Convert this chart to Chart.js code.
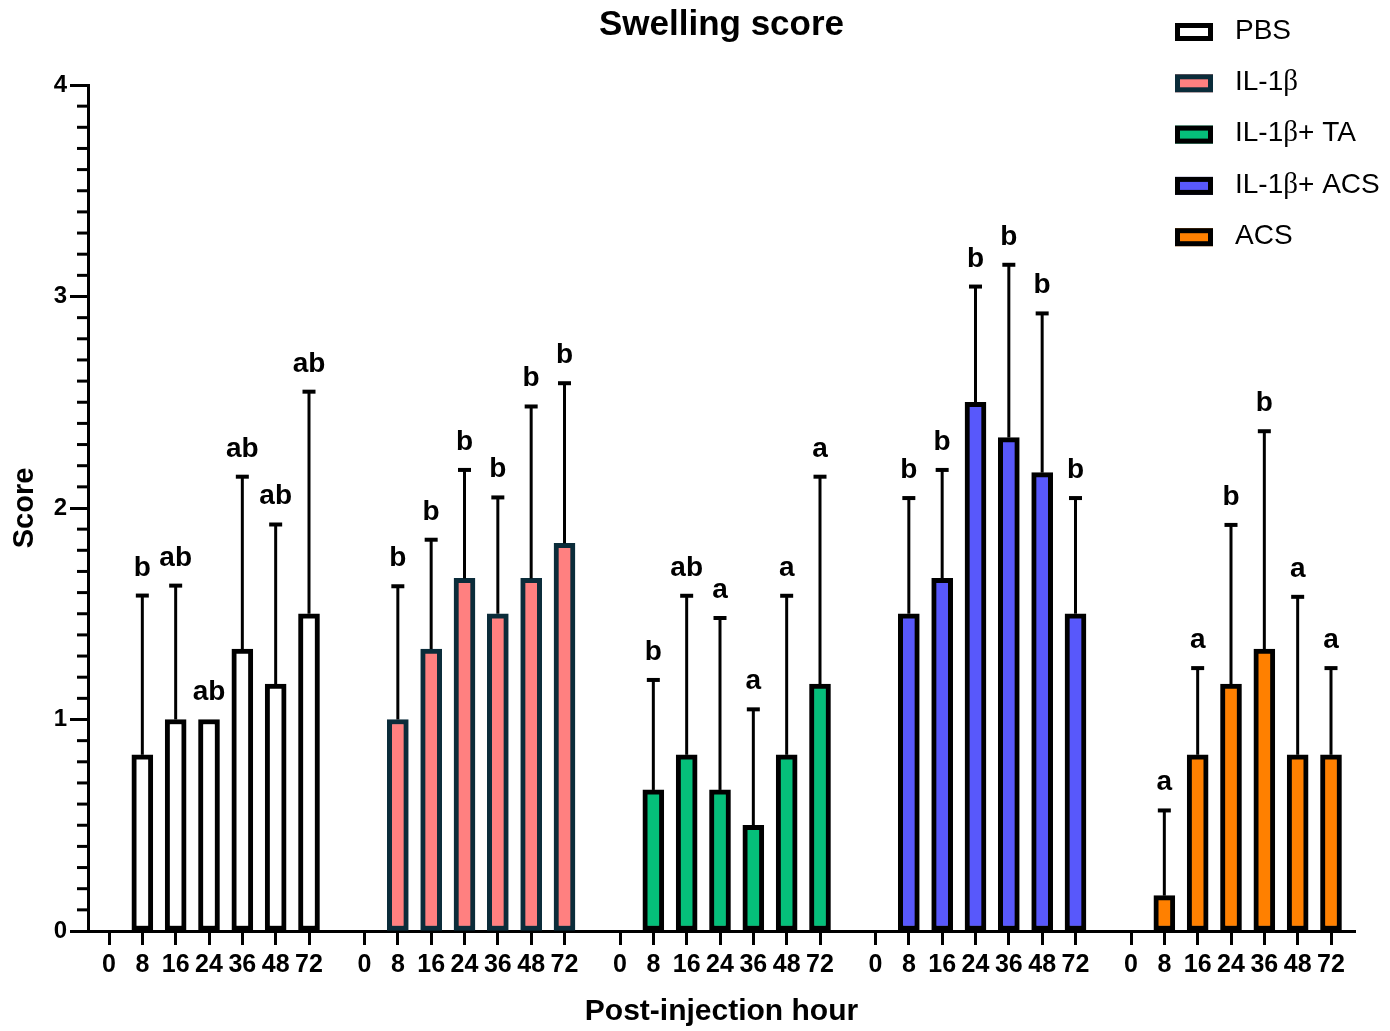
<!DOCTYPE html>
<html>
<head>
<meta charset="utf-8">
<title>Swelling score</title>
<script src="https://cdn.jsdelivr.net/npm/chart.js@4.4.0/dist/chart.umd.min.js"></script>
<style>
  html, body { margin: 0; padding: 0; background: #ffffff; }
  .canvas-container { width: 1390px; height: 1031px; }
</style>
</head>
<body>
<div class="canvas-container">
  <canvas id="myChart" width="1390" height="1031"></canvas>
</div>
<script>
// hours on the x axis, repeated for each group
const hours = ["0", "8", "16", "24", "36", "48", "72"];
const groupNames = ["PBS", "IL-1β", "IL-1β+ TA", "IL-1β+ ACS", "ACS"];

// mean scores (hour 0 has no bar)
const pbsMean = [0, 0.833, 1.0, 1.0, 1.333, 1.167, 1.5];
const il1bMean = [0, 1.0, 1.333, 1.667, 1.5, 1.667, 1.833];
const taMean = [0, 0.667, 0.833, 0.667, 0.5, 0.833, 1.167];
const il1bAcsMean = [0, 1.5, 1.667, 2.5, 2.333, 2.167, 1.5];
const acsMean = [0, 0.167, 0.833, 1.167, 1.333, 0.833, 0.833];

// upper error (SD)
const pbsErr = [0, 0.753, 0.633, 0, 0.815, 0.755, 1.05];
const il1bErr = [0, 0.63, 0.517, 0.513, 0.55, 0.813, 0.757];
const taErr = [0, 0.52, 0.752, 0.813, 0.548, 0.752, 0.981];
const il1bAcsErr = [0, 0.547, 0.513, 0.547, 0.817, 0.753, 0.547];
const acsErr = [0, 0.403, 0.41, 0.753, 1.03, 0.747, 0.41];

// significance letters
const pbsLetters = ["", "b", "ab", "ab", "ab", "ab", "ab"];
const il1bLetters = ["", "b", "b", "b", "b", "b", "b"];
const taLetters = ["", "b", "ab", "a", "a", "a", "a"];
const il1bAcsLetters = ["", "b", "b", "b", "b", "b", "b"];
const acsLetters = ["", "a", "a", "b", "b", "a", "a"];

const yTicks = [0, 1, 2, 3, 4];
const yMinorStep = 0.1;

const groupStep = 7.665; // spacing between groups, in hour slots
const xPos = (g, i) => g * groupStep + i;

const tickPositions = [];
groupNames.forEach((n, g) => hours.forEach((h, i) => tickPositions.push(xPos(g, i))));

function makeSet(g, label, means, errs, letters, fill, border) {
  return {
    label: label,
    data: means.map((v, i) => ({ x: xPos(g, i), y: v })),
    errors: errs,
    letters: letters,
    backgroundColor: fill,
    borderColor: border,
    borderWidth: 5,
    borderSkipped: false,
    barThickness: 21,
    grouped: false,
  };
}

const datasets = [
  makeSet(0, groupNames[0], pbsMean, pbsErr, pbsLetters, "#ffffff", "#000000"),
  makeSet(1, groupNames[1], il1bMean, il1bErr, il1bLetters, "#ff8080", "#0b2c3a"),
  makeSet(2, groupNames[2], taMean, taErr, taLetters, "#05bf7a", "#000000"),
  makeSet(3, groupNames[3], il1bAcsMean, il1bAcsErr, il1bAcsLetters, "#5858fb", "#000000"),
  makeSet(4, groupNames[4], acsMean, acsErr, acsLetters, "#ff8000", "#000000"),
];

const isInt = (v) => Math.abs(v - Math.round(v)) < 1e-6;

// error bars + letters above them
const errorBars = {
  id: "errorBars",
  afterDatasetsDraw(chart) {
    const ctx = chart.ctx;
    const yScale = chart.scales.y;
    chart.data.datasets.forEach((ds, di) => {
      const meta = chart.getDatasetMeta(di);
      meta.data.forEach((bar, i) => {
        const mean = ds.data[i].y;
        const err = ds.errors[i];
        const top = yScale.getPixelForValue(mean + err);
        ctx.save();
        ctx.strokeStyle = "#000";
        ctx.lineWidth = 3;
        if (err > 0) {
          ctx.beginPath();
          ctx.moveTo(bar.x, bar.y);
          ctx.lineTo(bar.x, top);
          ctx.stroke();
          ctx.lineWidth = 4;
          ctx.beginPath();
          ctx.moveTo(bar.x - 6.5, top);
          ctx.lineTo(bar.x + 6.5, top);
          ctx.stroke();
        }
        if (ds.letters[i]) {
          ctx.fillStyle = "#000";
          ctx.font = "bold 28px 'Liberation Sans', Arial, sans-serif";
          ctx.textAlign = "center";
          ctx.textBaseline = "alphabetic";
          ctx.fillText(ds.letters[i], bar.x, top - 20);
        }
        ctx.restore();
      });
    });
  },
};

// minor ticks on the y axis, every 0.1
const minorTicks = {
  id: "minorTicks",
  afterDraw(chart) {
    const ctx = chart.ctx;
    const yScale = chart.scales.y;
    const x0 = chart.chartArea.left;
    ctx.save();
    ctx.strokeStyle = "#000";
    ctx.lineWidth = 3;
    const n = Math.round((yScale.max - yScale.min) / yMinorStep);
    for (let k = 0; k <= n; k++) {
      const v = yScale.min + k * yMinorStep;
      if (isInt(v)) continue;
      const y = yScale.getPixelForValue(v);
      ctx.beginPath();
      ctx.moveTo(x0 - 11, y);
      ctx.lineTo(x0, y);
      ctx.stroke();
    }
    ctx.restore();
  },
};

// legend in the top right corner
const boxLegend = {
  id: "boxLegend",
  afterDraw(chart) {
    const ctx = chart.ctx;
    ctx.save();
    chart.data.datasets.forEach((ds, i) => {
      const cy = 31 + i * 51.3;
      ctx.fillStyle = ds.backgroundColor;
      ctx.fillRect(1175, cy - 8, 38, 18);
      ctx.strokeStyle = ds.borderColor;
      ctx.lineWidth = 5;
      ctx.strokeRect(1177.5, cy - 5.5, 33, 13);
      ctx.fillStyle = "#000";
      ctx.textBaseline = "middle";
      ctx.textAlign = "left";
      let x = 1235;
      ds.label.split(/(β)/).forEach((part) => {
        if (!part) return;
        ctx.font = part === "β"
          ? "29px 'Liberation Serif', 'Times New Roman', serif"
          : "28px 'Liberation Sans', Arial, sans-serif";
        ctx.fillText(part, x, cy);
        x += ctx.measureText(part).width;
      });
    });
    ctx.restore();
  },
};

const chartConfig = {
  type: "bar",
  data: { datasets: datasets },
  options: {
    responsive: false,
    animation: false,
    layout: { padding: { top: 0, right: 35, bottom: 0, left: 0 } },
    plugins: {
      legend: { display: false },
      tooltip: { enabled: false },
      title: {
        display: true,
        text: "Swelling score",
        fullSize: false,
        color: "#000",
        font: { family: "'Liberation Sans', Arial, sans-serif", size: 35, weight: "bold" },
        padding: { top: 4, bottom: 39 },
      },
    },
    scales: {
      x: {
        type: "linear",
        min: -0.63,
        max: 4 * groupStep + 6 + 0.72,
        offset: false,
        afterBuildTicks: (scale) => {
          scale.ticks = tickPositions.map((v) => ({ value: v }));
        },
        afterFit: (scale) => { scale.height = 100; },
        ticks: {
          autoSkip: false,
          maxRotation: 0,
          minRotation: 0,
          padding: 5.5,
          color: "#000",
          font: { family: "'Liberation Sans', Arial, sans-serif", size: 25, weight: "bold" },
          callback: (value, index) => hours[index % hours.length],
        },
        grid: {
          offset: false,
          drawOnChartArea: false,
          drawTicks: true,
          tickLength: 14,
          tickWidth: 3,
          tickColor: "#000",
        },
        border: { display: true, color: "#000", width: 3 },
        title: {
          display: true,
          text: "Post-injection hour",
          color: "#000",
          font: { family: "'Liberation Sans', Arial, sans-serif", size: 30, weight: "bold" },
          padding: { top: 0, bottom: 1 },
        },
      },
      y: {
        min: 0,
        max: 4,
        afterFit: (scale) => { scale.width = 88; },
        afterBuildTicks: (scale) => {
          scale.ticks = yTicks.map((v) => ({ value: v }));
        },
        ticks: {
          autoSkip: false,
          padding: 3,
          color: "#000",
          font: { family: "'Liberation Sans', Arial, sans-serif", size: 24, weight: "bold" },
          callback: (value) => String(value),
        },
        grid: {
          drawOnChartArea: false,
          drawTicks: true,
          tickLength: 18,
          tickWidth: 3,
          tickColor: "#000",
        },
        border: { display: true, color: "#000", width: 3 },
        title: {
          display: true,
          text: "Score",
          color: "#000",
          font: { family: "'Liberation Sans', Arial, sans-serif", size: 29, weight: "bold" },
          padding: { top: 7.6, bottom: 0 },
        },
      },
    },
  },
  plugins: [errorBars, minorTicks, boxLegend],
};

const chartInstance = new Chart(document.getElementById("myChart"), chartConfig);
</script>
</body>
</html>
